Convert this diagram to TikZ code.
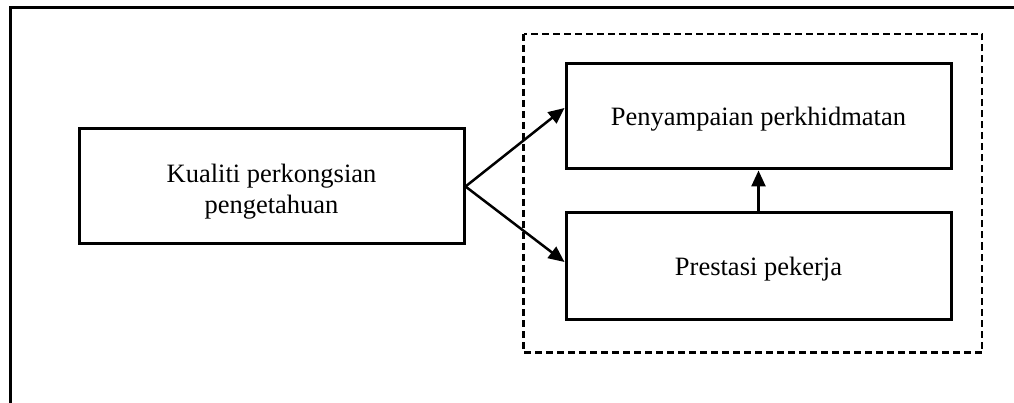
\documentclass[tikz,border=0pt]{standalone}
\usepackage{fontspec}
\setmainfont{Liberation Serif}
\usetikzlibrary{arrows.meta}
\begin{document}
\begin{tikzpicture}[x=1pt,y=-1pt,
  box/.style={draw=black,line width=3pt,rectangle,inner sep=0pt},
  boxtext/.style={align=center,inner sep=0pt,font=\fontsize{26.5}{31}\selectfont},
  arr/.style={draw=black,line width=2.5pt,-{Triangle[length=16pt,width=14pt]}},
  frame/.style={draw=black,line width=3pt},
  dashbox/.style={draw=black,line width=2.7pt,dash pattern=on 7pt off 4pt}]
\useasboundingbox (0,0) rectangle (1014,403);
% outer frame (top and left edges)
\coordinate (fbl) at (10.3,404);
\coordinate (ftl) at (10.3,7.3);
\coordinate (ftr) at (1015,7.3);
\draw[frame] (fbl) -- (ftl) -- (ftr);
% dashed group box
\draw[dashbox] (523.5,34) rectangle (982,352.5);
% boxes
\node[box,minimum width=385pt,minimum height=115pt,
  label={[boxtext,yshift=-5pt]center:Kualiti perkongsian\\pengetahuan}] (kual) at (271.5,186.5) {};
\node[box,minimum width=385pt,minimum height=105pt,
  label={[boxtext,yshift=-3pt]center:Penyampaian perkhidmatan}] (peny) at (758.5,116.5) {};
\node[box,minimum width=385pt,minimum height=106pt,
  label={[boxtext,yshift=-3pt]center:Prestasi pekerja}] (pres) at (758.5,266) {};
% connectors
\draw[arr] (kual.east) -- ([yshift=8.5pt]peny.west);
\draw[arr] (kual.east) -- ([yshift=4pt]pres.west);
\draw[arr] (pres.north) -- (peny.south);
\end{tikzpicture}
\end{document}
